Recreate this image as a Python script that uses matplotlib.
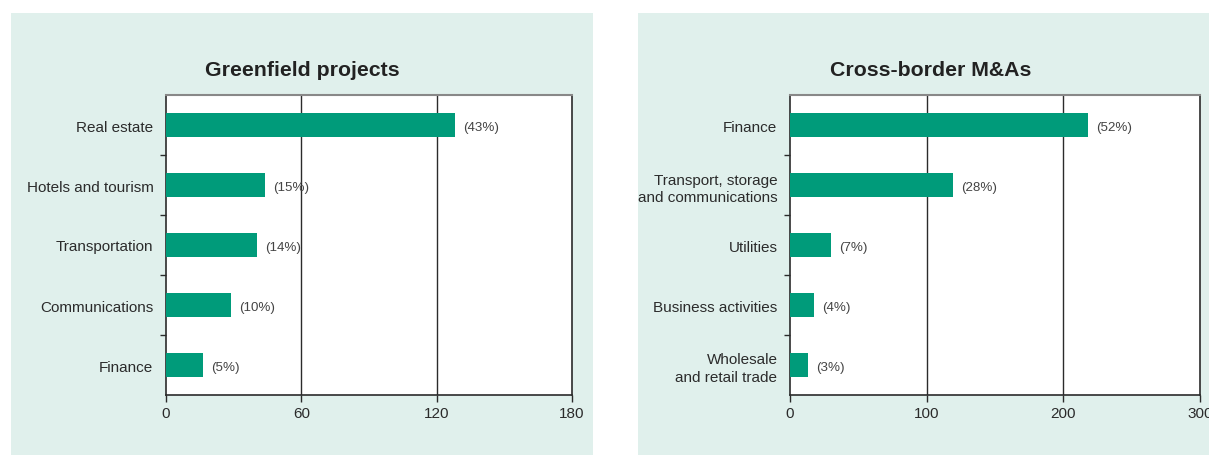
import matplotlib.pyplot as plt
from matplotlib.patches import Rectangle

plt.rcParams['font.family'] = ['Liberation Sans', 'DejaVu Sans']

# Greenfield projects (values in $ billion, share in brackets)
gf_labels = ['Real estate', 'Hotels and tourism', 'Transportation', 'Communications', 'Finance']
gf_values = [128, 44, 40.5, 29, 16.5]
gf_shares = ['(43%)', '(15%)', '(14%)', '(10%)', '(5%)']
gf_ticks = [0, 60, 120, 180]

# Cross-border M&As
ma_labels = ['Finance', 'Transport, storage\nand communications', 'Utilities',
             'Business activities', 'Wholesale\nand retail trade']
ma_values = [218, 119, 30, 17.5, 13]
ma_shares = ['(52%)', '(28%)', '(7%)', '(4%)', '(3%)']
ma_ticks = [0, 100, 200, 300]

W, H = 1209, 456
green = '#009b7a'
panel = '#e0f0ec'
dark = '#2b2b2b'

fig = plt.figure(figsize=(W / 100, H / 100), dpi=100)
fig.patch.set_facecolor('white')

# panel backgrounds
for x0, x1 in [(11, 593), (638, 1216)]:
    fig.patches.append(Rectangle((x0 / W, 0), (x1 - x0) / W, 1 - 14 / H,
                                 transform=fig.transFigure, facecolor=panel,
                                 edgecolor='none', zorder=-5))


def draw(left, right, labels, values, shares, ticks, title, title_x):
    ax = fig.add_axes([left / W, 1 - 396 / H, (right - left) / W, 300 / H])
    ax.set_facecolor('white')
    pos = list(range(len(labels)))
    ax.barh(pos, values, height=0.4, color=green, zorder=3)
    span = ticks[-1] - ticks[0]
    for p, v, s in zip(pos, values, shares):
        ax.text(v + span * 0.02, p + 0.03, s, va='center', ha='left', fontsize=9.6,
                color='#444444', zorder=4)
    ax.set_ylim(len(labels) - 0.5, -0.5)
    ax.set_xlim(ticks[0], ticks[-1])
    ax.set_xticks(ticks)
    ax.set_xticklabels([str(t) for t in ticks], fontsize=11, color=dark)
    ax.set_yticks(pos)
    ax.set_yticklabels(labels, fontsize=11, color=dark, linespacing=1.3)
    ax.set_yticks([p + 0.5 for p in pos[:-1]], minor=True)
    ax.tick_params(axis='y', which='major', length=0, pad=9)
    ax.tick_params(axis='y', which='minor', length=4, width=1, color=dark, direction='out')
    ax.tick_params(axis='x', length=5, width=1, color=dark, direction='out', pad=3)
    for t in ticks[1:-1]:
        ax.axvline(t, color=dark, lw=1, zorder=2)
    for side in ['left', 'bottom', 'right']:
        ax.spines[side].set_color(dark)
        ax.spines[side].set_linewidth(1.2)
    ax.spines['top'].set_color('#888888')
    ax.spines['top'].set_linewidth(1.5)
    fig.text(title_x / W, 1 - 71 / H, title, ha='center', va='center',
             fontsize=15.3, fontweight='bold', color='#222222')
    return ax


draw(166, 572, gf_labels, gf_values, gf_shares, gf_ticks, 'Greenfield projects', 302)
draw(790, 1200, ma_labels, ma_values, ma_shares, ma_ticks, 'Cross-border M&As', 931)

fig.savefig('out.png', dpi=100)
